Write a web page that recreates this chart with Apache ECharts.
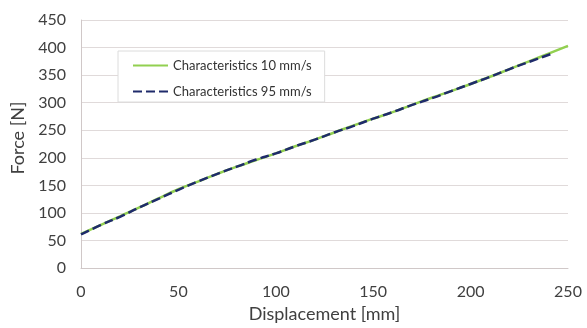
<!DOCTYPE html>
<html><head><meta charset="utf-8">
<script src="https://cdn.jsdelivr.net/npm/echarts@6/dist/echarts.min.js"></script>
<style>html,body{margin:0;padding:0;background:#fff}#c{width:587px;height:328px}</style>
</head><body><div id="c"></div>
<script>
const seriesNames = ['Characteristics 10 mm/s', 'Characteristics 95 mm/s'];
const disp10 = [0,10,20,30,40,50,60,70,80,90,100,110,120,130,140,150,160,170,180,190,200,210,220,230,240,250];
const force10 = [62,78,94,110,127,143,157,171,184,196,208,221,233,246,259,271,283,296,309,321,334,347,361,375,389,403];
const disp95 = [0,10,20,30,40,50,60,70,80,90,100,110,120,130,140,150,160,170,180,190,200,210,220,230,241];
const force95 = [61,78,93,110,126,142,157,171,184,197,208,221,233,246,258,271,283,296,308,321,334,347,361,374,388];
const xTicks = [0,50,100,150,200,250];
const yTicks = [0,50,100,150,200,250,300,350,400,450];

const font = 'Lato, "Open Sans", sans-serif';
const chart = echarts.init(document.getElementById('c'), null, {renderer:'canvas'});
chart.setOption({
  animation:false,
  backgroundColor:'#fff',
  textStyle:{fontFamily:font},
  grid:{left:81,right:19,top:20,bottom:54,containLabel:false},
  legend:{
    orient:'vertical', left:118, top:51,
    padding:[8,13,4,14],
    backgroundColor:'#fff', borderColor:'#dcdcdc', borderWidth:1,
    itemWidth:35, itemHeight:10, itemGap:13,
    itemStyle:{opacity:0},
    textStyle:{fontSize:13, color:'#333', fontFamily:font},
    data:seriesNames
  },
  xAxis:{
    type:'value', min:0, max:250, interval:50,
    name:'Displacement [mm]', nameLocation:'middle', nameGap:31,
    nameTextStyle:{fontSize:18, color:'#404040', fontFamily:font},
    axisLine:{show:true, lineStyle:{color:'#d0c8c8'}},
    axisTick:{show:false},
    axisLabel:{fontSize:16, color:'#404040', margin:16, formatter:v=>xTicks.includes(v)?String(v):''},
    splitLine:{show:false}
  },
  yAxis:{
    type:'value', min:0, max:450, interval:50,
    name:'Force [N]', nameLocation:'middle', nameGap:53, nameRotate:90,
    nameTextStyle:{fontSize:18, color:'#404040', fontFamily:font, padding:[0,0,0,12]},
    axisLine:{show:true, lineStyle:{color:'#d0c8c8'}},
    axisTick:{show:false},
    axisLabel:{fontSize:16, color:'#404040', margin:15, formatter:v=>yTicks.includes(v)?String(v):''},
    splitLine:{show:true, lineStyle:{color:'#e0dada', width:1}}
  },
  series:[
    {name:seriesNames[0], type:'line', symbol:'none', smooth:true,
     data:disp10.map((x,i)=>[x,force10[i]]),
     lineStyle:{color:'#92d050', width:2.5}, itemStyle:{color:'#92d050'}},
    {name:seriesNames[1], type:'line', symbol:'none', smooth:true,
     data:disp95.map((x,i)=>[x,force95[i]]),
     lineStyle:{color:'#1f2b6b', width:2.5, type:[9,4]}, itemStyle:{color:'#1f2b6b'}}
  ]
});
</script></body></html>
